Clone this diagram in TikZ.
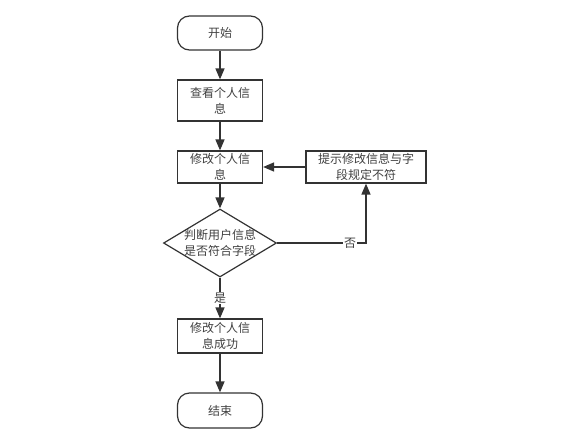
\documentclass[tikz,border=0pt]{standalone}
\usepackage{fontspec}
\newfontfamily\cjk{Noto Sans CJK SC}
\usetikzlibrary{arrows.meta,shapes.geometric}
\begin{document}
\begin{tikzpicture}[x=1pt,y=-1pt,
  every node/.style={font=\cjk\fontsize{12}{16}\selectfont, text=black!75},
  term/.style={draw=black!80, line width=1.2pt, rounded corners=12pt, minimum width=85pt, minimum height=34pt, inner sep=0pt},
  proc/.style={draw=black!80, line width=1.2pt, minimum width=85pt, minimum height=34pt, inner sep=0pt, align=center},
  dec/.style={draw=black!80, line width=1.2pt, diamond, aspect=1.66, minimum width=113pt, minimum height=68pt, inner sep=-5pt, align=center},
  conn/.style={draw=black!80, line width=1.5pt, -{Triangle[length=11pt,width=9pt]}},
  lab/.style={fill=white, inner sep=1pt}
]
\useasboundingbox (0,0) rectangle (576,434);
\node[term] (start) at (220,33) {开始};
\node[proc, minimum height=41pt] (view) at (220,100.5) {查看个人信\\息};
\node[proc, minimum height=32pt] (edit) at (220,167) {修改个人信\\息};
\node[proc, minimum width=120pt, minimum height=32pt] (hint) at (366,167) {提示修改信息与字\\段规定不符};
\node[dec] (check) at (220,243) {判断用户信息\\是否符合字段};
\node[proc, minimum height=34pt] (ok) at (220,336) {修改个人信\\息成功};
\node[term, minimum height=35pt] (end) at (220,410.5) {结束};
\coordinate (corner) at (hint.south |- check.east);
\draw[conn] (start) -- (view);
\draw[conn] (view) -- (edit);
\draw[conn] (edit) -- (check);
\draw[conn] (check) -- node[lab, pos=0.5] {是} (ok);
\draw[conn] (ok) -- (end);
\draw[conn] (check.east) -- node[lab, pos=0.82] {否} (corner) -- (hint.south);
\draw[conn] (hint) -- (edit);
\end{tikzpicture}
\end{document}
